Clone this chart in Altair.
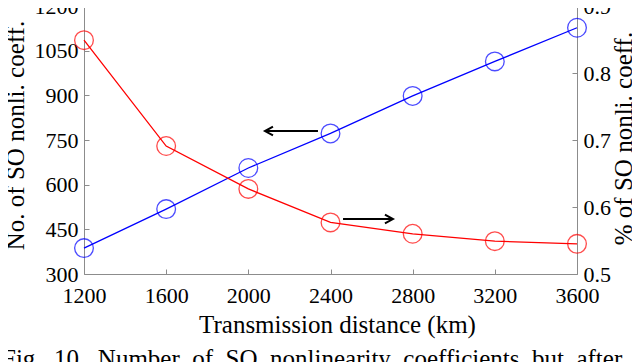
import altair as alt
import pandas as pd

# ---- data ----
distance = [1200, 1600, 2000, 2400, 2800, 3200, 3600]
num_coeff = [387, 518, 656, 772, 898, 1014, 1127]
pct_coeff = [0.849, 0.691, 0.627, 0.577, 0.560, 0.549, 0.545]

x_ticks = [1200, 1600, 2000, 2400, 2800, 3200, 3600]
left_ticks = [300, 450, 600, 750, 900, 1050, 1200]
right_ticks = [0.5, 0.6, 0.7, 0.8, 0.9]

# annotation arrows (data coordinates): tail -> head
left_arrow_tail_x = [2339]
left_arrow_head_x = [2081]
left_arrow_y = [780]
right_arrow_tail_x = [2461]
right_arrow_head_x = [2704]
right_arrow_y = [0.582]

caption_words = ["Fig.", "10.", "Number", "of", "SO", "nonlinearity", "coefficients", "but", "after"]

x_title = "Transmission distance (km)"
left_title = "No. of SO nonli. coeff."
right_title = "% of SO nonli. coeff."

# ---- styling ----
FONT = "Liberation Serif"
GRAY = "#8c8c8c"
BLUE = "#0000ff"
RED = "#ff0000"
W, H = 493, 268

df = pd.DataFrame({"d": distance, "n": num_coeff, "p": pct_coeff})
la = pd.DataFrame({"x": left_arrow_tail_x, "x2": left_arrow_head_x, "y": left_arrow_y})
ra = pd.DataFrame({"x": right_arrow_tail_x, "x2": right_arrow_head_x, "y": right_arrow_y})
cap = pd.DataFrame({"t": ["\u00a0\u00a0".join(caption_words)]})

xs = alt.Scale(domain=[1200, 3600], nice=False, zero=False)
ls = alt.Scale(domain=[300, 1200], nice=False, zero=False)
rs = alt.Scale(domain=[0.5, 0.9], nice=False, zero=False)

lab = dict(labelFont=FONT, labelFontSize=22, labelColor="black", grid=False, domain=False,
           ticks=False, tickSize=0, labelFlush=False, labelOverlap=False, labelBound=False)
tit = dict(titleFont=FONT, titleFontSize=25, titleFontWeight="normal", titleColor="black",
           titleAlign="center")
inward = dict(labels=False, domain=False, ticks=True, tickSize=5, tickColor=GRAY, tickWidth=1,
              grid=False, title=None)

x_main = alt.Axis(orient="bottom", values=x_ticks, format="d", labelPadding=11,
                  title=x_title, titleX=253, titleY=58, titleBaseline="alphabetic", **lab, **tit)
x_in_bottom = alt.Axis(orient="top", offset=-H, values=x_ticks, **inward)
x_in_top = alt.Axis(orient="bottom", offset=-H, values=x_ticks, **inward)

y_left_main = alt.Axis(orient="left", values=left_ticks, format="d", labelPadding=6,
                       title=left_title, titleAngle=270, titleX=-69, titleY=129,
                       titleBaseline="middle", **lab, **tit)
y_left_in = alt.Axis(orient="right", offset=-W, values=left_ticks, **inward)
y_right_main = alt.Axis(orient="right", values=right_ticks, format=".1f", labelPadding=6,
                        title=right_title, titleAngle=270, titleX=46, titleY=132,
                        titleBaseline="middle", **lab, **tit)
y_right_in = alt.Axis(orient="left", offset=-W, values=right_ticks, **inward)

base = alt.Chart(df)

blue_line = base.mark_line(color=BLUE, strokeWidth=1.3).encode(
    x=alt.X("d:Q", scale=xs, axis=x_main),
    y=alt.Y("n:Q", scale=ls, axis=y_left_main),
)
blue_pts = base.mark_point(shape="circle", size=350, filled=False, color=BLUE, strokeWidth=1.3).encode(
    x=alt.X("d:Q", scale=xs, axis=x_in_bottom),
    y=alt.Y("n:Q", scale=ls, axis=y_left_in),
)

LEFT_HEAD = "M1,-0.55L0,0L1,0.55"
RIGHT_HEAD = "M-1,-0.55L0,0L-1,0.55"

la_rule = alt.Chart(la).mark_rule(color="black", strokeWidth=2).encode(
    x=alt.X("x:Q", scale=xs, axis=None), x2="x2:Q",
    y=alt.Y("y:Q", scale=ls, axis=None),
)
la_head = alt.Chart(la).mark_point(shape=LEFT_HEAD, size=256, filled=False, color="black",
                                   strokeWidth=2, opacity=1).encode(
    x=alt.X("x2:Q", scale=xs, axis=None),
    y=alt.Y("y:Q", scale=ls, axis=None),
)

caption = alt.Chart(cap).mark_text(font=FONT, fontSize=25, align="left", baseline="alphabetic",
                                   color="black").encode(
    text="t:N", x=alt.value(-82), y=alt.value(361)
)

left_group = alt.layer(blue_line, blue_pts, la_rule, la_head, caption)

red_line = base.mark_line(color=RED, strokeWidth=1.3).encode(
    x=alt.X("d:Q", scale=xs, axis=x_in_top),
    y=alt.Y("p:Q", scale=rs, axis=y_right_main),
)
red_pts = base.mark_point(shape="circle", size=350, filled=False, color=RED, strokeWidth=1.3).encode(
    x=alt.X("d:Q", scale=xs, axis=None),
    y=alt.Y("p:Q", scale=rs, axis=y_right_in),
)
ra_rule = alt.Chart(ra).mark_rule(color="black", strokeWidth=2).encode(
    x=alt.X("x:Q", scale=xs, axis=None), x2="x2:Q",
    y=alt.Y("y:Q", scale=rs, axis=None),
)
ra_head = alt.Chart(ra).mark_point(shape=RIGHT_HEAD, size=256, filled=False, color="black",
                                   strokeWidth=2, opacity=1).encode(
    x=alt.X("x2:Q", scale=xs, axis=None),
    y=alt.Y("y:Q", scale=rs, axis=None),
)
right_group = alt.layer(red_line, red_pts, ra_rule, ra_head)

chart = alt.layer(left_group, right_group).resolve_scale(y="independent").properties(
    width=W, height=H,
    padding={"left": 76, "top": -2, "right": 55, "bottom": 94},
    autosize=alt.AutoSizeParams(type="none"),
    background="white",
).configure_view(stroke=GRAY, strokeWidth=1)

chart.save("out.html", embed_options={"renderer": "svg", "actions": False})
